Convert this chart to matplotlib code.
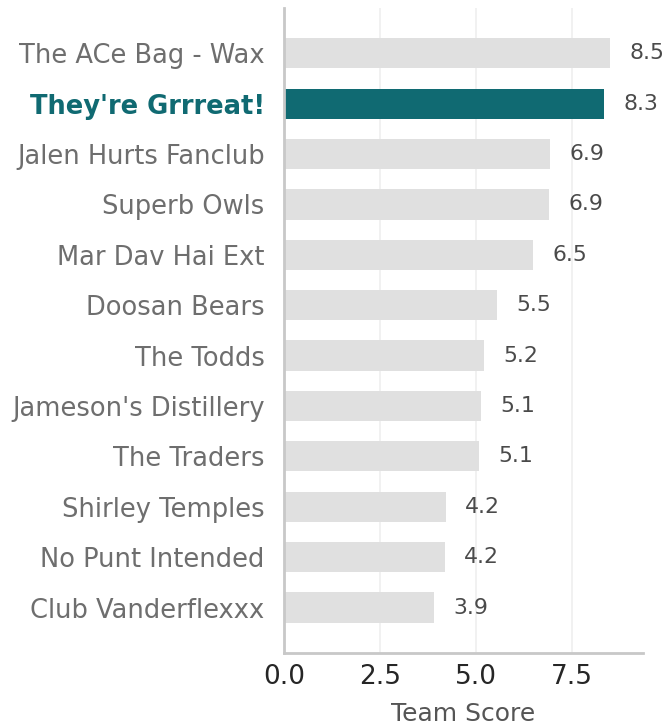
import numpy as np
import matplotlib
matplotlib.use("Agg")
import matplotlib.pyplot as plt

# datos
equipos = ["The ACe Bag - Wax", "They're Grrreat!", "Jalen Hurts Fanclub",
           "Superb Owls", "Mar Dav Hai Ext", "Doosan Bears", "The Todds",
           "Jameson's Distillery", "The Traders", "Shirley Temples",
           "No Punt Intended", "Club Vanderflexxx"]
puntajes = [8.5, 8.33, 6.94, 6.91, 6.48, 5.54, 5.22, 5.12, 5.09, 4.22, 4.18, 3.9]
destacado = "They're Grrreat!"

gris = "#e0e0e0"
verde = "#106a72"

fig = plt.figure(figsize=(6.67, 7.27), dpi=100)
ax = fig.add_axes([0.426, 0.102, 0.538, 0.887])

y = np.arange(len(equipos))
colores = [verde if e == destacado else gris for e in equipos]
ax.barh(y, puntajes, height=0.6, color=colores, zorder=2)

xmax = max(puntajes) * 1.1
ax.set_xlim(0, xmax)
ax.set_ylim(len(equipos) - 0.1, -0.9)

# etiquetas de valor
for yi, v in zip(y, puntajes):
    ax.text(v + 0.5, yi, f"{v:.1f}", va="center", ha="left",
            fontsize=15.8, color="#4a4a4a", clip_on=False)

ax.set_yticks(y)
ax.set_yticklabels(equipos, fontsize=18.5, color="#6e6e6e")
for lab in ax.get_yticklabels():
    if lab.get_text() == destacado:
        lab.set_color(verde)
        lab.set_fontweight("bold")

ax.set_xticks([0, 2.5, 5.0, 7.5])
ax.set_xticklabels(["0.0", "2.5", "5.0", "7.5"], fontsize=19, color="#262626")
ax.set_xlabel("Team Score", fontsize=18, color="#555555", labelpad=8.5)
ax.tick_params(axis="x", length=0, pad=8)
ax.tick_params(axis="y", length=0, pad=14)

ax.grid(axis="x", color="#f0f0f0", linewidth=1.3, zorder=0)
ax.set_axisbelow(True)
for s in ["top", "right"]:
    ax.spines[s].set_visible(False)
for s in ["left", "bottom"]:
    ax.spines[s].set_color("#c8c8c8")
    ax.spines[s].set_linewidth(2)

fig.savefig("out.png", dpi=100)
